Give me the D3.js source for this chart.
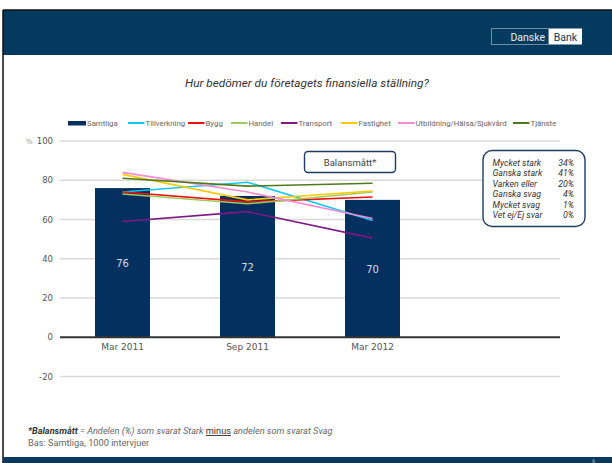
<!DOCTYPE html>
<html>
<head>
<meta charset="utf-8">
<script src="https://cdn.jsdelivr.net/npm/d3@7/dist/d3.min.js"></script>
<style>
  html, body { margin: 0; padding: 0; background: #fff; }
  svg { display: block; }
</style>
</head>
<body>
<svg id="chart" width="612" height="463"></svg>
<script>
// Survey waves
const periods = ["Mar 2011", "Sep 2011", "Mar 2012"];
// Balansmått for all respondents (bars)
const samtliga = [76, 72, 70];
// Balansmått per industry (lines)
const tillverkning = [74, 79, 59.5];
const bygg = [74, 69, 71.5];
const handel = [73, 68, 74];
const transport = [59, 64, 50.5];
const fastighet = [83, 70, 74.5];
const utbildning = [84, 74, 60.5];
const tjanste = [81, 77, 78.5];
const seriesNames = ["Tillverkning", "Bygg", "Handel", "Transport", "Fastighet", "Utbildning/Hälsa/Sjukvård", "Tjänste"];
const seriesValues = [tillverkning, bygg, handel, transport, fastighet, utbildning, tjanste];
const seriesColors = ["#10c8f4", "#f01010", "#9ccc5c", "#7e1784", "#fdc90d", "#f58ad0", "#4f7a1c"];
const yTicks = [-20, 0, 20, 40, 60, 80, 100];
// Distribution of answers, March 2012
const answerLabels = ["Mycket stark", "Ganska stark", "Varken eller", "Ganska svag", "Mycket svag", "Vet ej/Ej svar"];
const answerShares = ["34%", "41%", "20%", "4%", "1%", "0%"];

const svg = d3.select("#chart");
const navy = "#033a5d";
const barNavy = "#03305e";
const sans = "Roboto, 'Noto Sans', sans-serif";
const axisFont = "'DejaVu Sans', Verdana, sans-serif";

// Page frame: header band, left rule, footer band
svg.append("rect").attr("x", 3).attr("y", 10).attr("width", 609).attr("height", 45).attr("fill", navy);
svg.append("line").attr("x1", 3).attr("x2", 612).attr("y1", 10).attr("y2", 10).attr("stroke", "#111").attr("stroke-width", 1.5);
svg.append("line").attr("x1", 3).attr("x2", 3).attr("y1", 10).attr("y2", 463).attr("stroke", "#111").attr("stroke-width", 1.5);
svg.append("rect").attr("x", 3).attr("y", 457).attr("width", 609).attr("height", 6).attr("fill", navy);
svg.append("text").attr("x", 592).attr("y", 463).attr("font-family", sans).attr("font-size", 6)
  .attr("fill", "#9fb6c8").text("6");

// Logo
const logo = svg.append("g");
logo.append("rect").attr("x", 491.5).attr("y", 28.5).attr("width", 57).attr("height", 16)
  .attr("fill", "none").attr("stroke", "#8aa4b8").attr("stroke-width", 0.8);
logo.append("text").attr("x", 545).attr("y", 41).attr("text-anchor", "end").attr("font-family", sans)
  .attr("font-size", 10.5).attr("fill", "#e8eef3").text("Danske");
logo.append("rect").attr("x", 549).attr("y", 28.5).attr("width", 33).attr("height", 16).attr("fill", "#fff");
logo.append("text").attr("x", 565.5).attr("y", 41).attr("text-anchor", "middle").attr("font-family", sans)
  .attr("font-size", 10.5).attr("fill", navy).text("Bank");

// Title
svg.append("text").attr("x", 307).attr("y", 87).attr("text-anchor", "middle").attr("font-family", sans)
  .attr("font-style", "italic").attr("font-size", 11.8).attr("fill", "#333")
  .text("Hur bedömer du företagets finansiella ställning?");

// Scales
const x = d3.scaleBand().domain([...periods, ""]).range([60, 560]).paddingInner(0.56).paddingOuter(0.28);
const y = d3.scaleLinear().domain([-20, 100]).range([376.5, 141]);
const cx = p => x(p) + x.bandwidth() / 2;

// Gridlines
svg.append("g").selectAll("line").data(yTicks.filter(t => t !== 0)).join("line")
  .attr("x1", 60).attr("x2", 560).attr("y1", d => y(d)).attr("y2", d => y(d))
  .attr("stroke", "#d9d9d9").attr("stroke-width", 1.3);

// Y axis labels
const yAxis = d3.axisLeft(y).tickValues(yTicks).tickSize(0).tickPadding(0).tickFormat(d => String(d));
const yG = svg.append("g").attr("transform", "translate(53,0)").call(yAxis);
yG.select(".domain").remove();
yG.selectAll("text").attr("font-family", axisFont).attr("font-size", 8.5).attr("fill", "#555");
svg.append("text").attr("x", 26).attr("y", y(100) + 3).attr("font-family", axisFont)
  .attr("font-size", 7).attr("fill", "#999").text("%");

// Bars
svg.append("g").selectAll("rect").data(samtliga).join("rect")
  .attr("x", (d, i) => x(periods[i])).attr("width", x.bandwidth())
  .attr("y", d => y(d)).attr("height", d => y(0) - y(d)).attr("fill", barNavy);
svg.append("g").selectAll("text").data(samtliga).join("text")
  .attr("x", (d, i) => cx(periods[i])).attr("y", d => (y(d) + y(0)) / 2 + 4)
  .attr("text-anchor", "middle").attr("font-family", axisFont).attr("font-size", 10)
  .attr("fill", "#d4dbe3").text(d => d);

// Zero line
svg.append("line").attr("x1", 60).attr("x2", 560).attr("y1", y(0)).attr("y2", y(0))
  .attr("stroke", "#333").attr("stroke-width", 2);

// X axis labels
const xAxis = d3.axisBottom(x).tickValues(periods).tickSize(0).tickPadding(0);
const xG = svg.append("g").attr("transform", `translate(0,${y(0) + 6})`).call(xAxis);
xG.select(".domain").remove();
xG.selectAll("text").attr("font-family", axisFont).attr("font-size", 9).attr("fill", "#555");

// Industry lines
const line = d3.line().x((d, i) => cx(periods[i])).y(d => y(d));
svg.append("g").selectAll("path").data(seriesValues).join("path")
  .attr("d", line).attr("fill", "none")
  .attr("stroke", (d, i) => seriesColors[i]).attr("stroke-width", 1.6);

// Legend
const legend = svg.append("g").attr("font-family", sans).attr("font-size", 7.8).attr("fill", "#666");
legend.append("rect").attr("x", 68).attr("y", 121).attr("width", 18).attr("height", 4.5).attr("fill", barNavy);
legend.append("text").attr("x", 87).attr("y", 125.8).text("Samtliga");
const legendX = [128, 188, 231, 281, 341, 398, 513];
seriesNames.forEach((n, i) => {
  legend.append("line").attr("x1", legendX[i]).attr("x2", legendX[i] + 16.5)
    .attr("y1", 123).attr("y2", 123).attr("stroke", seriesColors[i]).attr("stroke-width", 2);
  legend.append("text").attr("x", legendX[i] + 17.5).attr("y", 125.8).text(n);
});

// Balansmått label box
svg.append("rect").attr("x", 304.5).attr("y", 151.5).attr("width", 91).attr("height", 21).attr("rx", 3.5)
  .attr("fill", "#fff").attr("stroke", "#1f3d63").attr("stroke-width", 1.4);
svg.append("text").attr("x", 350).attr("y", 165.5).attr("text-anchor", "middle").attr("font-family", sans)
  .attr("font-size", 9.5).attr("fill", "#444").text("Balansmått*");

// Answer distribution box
svg.append("rect").attr("x", 483).attr("y", 150.5).attr("width", 102).attr("height", 76).attr("rx", 9)
  .attr("fill", "#fff").attr("stroke", "#1f3d63").attr("stroke-width", 1.4);
const ans = svg.append("g").attr("font-family", sans).attr("font-style", "italic")
  .attr("font-size", 8.8).attr("fill", "#333");
answerLabels.forEach((l, i) => {
  const yy = 166 + i * 10.4;
  ans.append("text").attr("x", 492.5).attr("y", yy).text(l);
  ans.append("text").attr("x", 574).attr("y", yy).attr("text-anchor", "end").text(answerShares[i]);
});

// Footnote
const foot = svg.append("text").attr("x", 28).attr("y", 434).attr("font-family", sans)
  .attr("font-size", 9.2).attr("fill", "#666");
foot.append("tspan").attr("font-weight", "bold").attr("font-style", "italic").attr("fill", "#333").text("*Balansmått");
foot.append("tspan").attr("font-style", "italic").text(" = Andelen (%) som svarat Stark ");
foot.append("tspan").attr("fill", "#333").attr("text-decoration", "underline").text("minus");
foot.append("tspan").attr("font-style", "italic").text(" andelen som svarat Svag");
svg.append("text").attr("x", 28).attr("y", 446).attr("font-family", sans)
  .attr("font-size", 9.2).attr("fill", "#666").text("Bas: Samtliga, 1000 intervjuer");
</script>
</body>
</html>
